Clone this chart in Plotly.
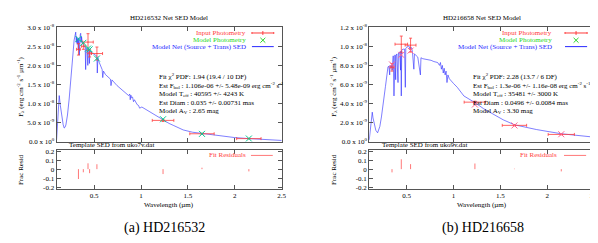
import plotly.graph_objects as go

# ---------------- data (flux in units of 1e-8 erg cm^-2 s^-1 um^-1) ----------------
# Left: HD216532
a_wave = [0.100, 0.115, 0.128, 0.140, 0.156, 0.170, 0.181, 0.190, 0.199, 0.216, 0.234, 0.251,
          0.269, 0.287, 0.304, 0.310, 0.314, 0.320, 0.325, 0.332, 0.336, 0.342, 0.346, 0.352,
          0.357, 0.362, 0.366, 0.375, 0.385, 0.395, 0.405, 0.410, 0.415, 0.425, 0.433, 0.438,
          0.446, 0.450, 0.455, 0.465, 0.480, 0.500, 0.515, 0.530, 0.534, 0.540, 0.551, 0.570,
          0.586, 0.592, 0.600, 0.621, 0.650, 0.674, 0.680, 0.690, 0.745, 0.798, 0.830, 0.850,
          0.868, 0.880, 0.885, 0.892, 0.900, 0.910, 0.920, 0.930, 0.945, 0.960, 0.974, 0.985,
          1.009, 1.050, 1.100, 1.150, 1.200, 1.250, 1.300, 1.344, 1.450, 1.550, 1.670, 1.870,
          2.000, 2.140, 2.330, 2.500]
a_flux = [0.05, 0.60, 1.21, 0.95, 0.61, 0.45, 0.36, 0.38, 0.44, 0.70, 1.12, 1.64,
          2.15, 2.66, 2.87, 2.60, 2.75, 2.55, 2.70, 2.40, 2.72, 2.27, 2.70, 2.80,
          2.84, 2.60, 2.75, 2.57, 2.55, 2.50, 2.48, 1.89, 2.46, 2.44, 2.00, 2.42,
          2.36, 2.05, 2.38, 2.35, 2.32, 2.30, 2.27, 2.24, 1.80, 2.20, 2.10, 1.98,
          1.89, 1.68, 1.85, 1.76, 1.70, 1.64, 1.47, 1.62, 1.47, 1.36, 1.30, 1.27,
          1.21, 1.25, 1.10, 1.22, 1.15, 1.17, 1.05, 1.10, 1.02, 0.97, 0.95, 0.88,
          0.91, 0.85, 0.78, 0.70, 0.62, 0.54, 0.48, 0.43, 0.31, 0.25, 0.21, 0.145,
          0.11, 0.085, 0.05, 0.035]
a_phot_x = [0.333, 0.385, 0.435, 0.452, 0.530, 1.235, 1.650, 2.150]
a_phot_y = [2.42, 2.50, 2.61, 2.32, 2.31, 0.56, 0.21, 0.083]
a_phot_xerr = [0.02, 0.02, 0.056, 0.02, 0.06, 0.115, 0.13, 0.13]
a_phot_yerr = [0.15, 0.08, 0.22, 0.10, 0.17, 0.03, 0.015, 0.008]
a_model = [2.69, 2.59, 2.44, 2.42, 2.18, 0.59, 0.207, 0.085]
a_resid = [-0.11, -0.035, 0.065, -0.045, 0.055, -0.055, 0.016, -0.025]

# Right: HD216658
b_wave = [0.100, 0.115, 0.132, 0.140, 0.153, 0.170, 0.189, 0.200, 0.213, 0.230, 0.248, 0.273,
          0.300, 0.310, 0.318, 0.322, 0.330, 0.337, 0.345, 0.350, 0.356, 0.364, 0.368, 0.375,
          0.382, 0.386, 0.395, 0.407, 0.412, 0.425, 0.434, 0.438, 0.442, 0.447, 0.460, 0.477,
          0.485, 0.490, 0.500, 0.512, 0.525, 0.535, 0.540, 0.548, 0.560, 0.576, 0.583, 0.600,
          0.618, 0.646, 0.652, 0.671, 0.700, 0.724, 0.760, 0.790, 0.830, 0.850, 0.860, 0.870,
          0.880, 0.890, 0.900, 0.910, 0.920, 0.930, 0.940, 0.955, 0.970, 1.000, 1.040, 1.110,
          1.228, 1.320, 1.530, 1.650, 1.886, 2.150, 2.486]
b_flux = [0.02, 0.15, 0.31, 0.25, 0.18, 0.12, 0.094, 0.12, 0.16, 0.26, 0.38, 0.58,
          0.785, 0.79, 0.70, 0.80, 0.78, 0.80, 0.75, 0.85, 0.90, 0.48, 0.88, 0.91,
          0.65, 0.90, 0.92, 0.62, 0.93, 0.94, 0.75, 0.95, 0.48, 0.96, 0.97, 0.97,
          0.57, 0.98, 0.99, 1.005, 1.00, 0.97, 0.99, 0.99, 0.95, 0.76, 0.92, 0.90,
          0.887, 0.70, 0.88, 0.87, 0.865, 0.853, 0.853, 0.84, 0.83, 0.80, 0.83, 0.76,
          0.80, 0.72, 0.77, 0.70, 0.74, 0.62, 0.70, 0.66, 0.64, 0.61, 0.57, 0.48,
          0.41, 0.347, 0.23, 0.178, 0.128, 0.084, 0.05]
b_phot_x = [0.343, 0.442, 0.541, 1.228, 1.650, 2.150]
b_phot_y = [0.78, 1.022, 1.012, 0.415, 0.172, 0.077]
b_phot_xerr = [0.02, 0.067, 0.058, 0.115, 0.13, 0.14]
b_phot_yerr = [0.04, 0.085, 0.073, 0.01, 0.005, 0.004]
b_model = [0.81, 0.91, 0.955, 0.39, 0.171, 0.079]
b_resid = [-0.036, 0.11, 0.056, 0.063, 0.005, -0.025]

xticks = [0.5, 1, 1.5, 2, 2.5]
xticklabels = ["0.5", "1", "1.5", "2", "2.5"]
a_yticks = [0, 0.5, 1.0, 1.5, 2.0, 2.5, 3.0]
a_yticklabels = ["0.0 x 10<sup>0</sup>", "5.0 x 10<sup>-9</sup>", "1.0 x 10<sup>-8</sup>",
                 "1.5 x 10<sup>-8</sup>", "2.0 x 10<sup>-8</sup>", "2.5 x 10<sup>-8</sup>",
                 "3.0 x 10<sup>-8</sup>"]
b_yticks = [0, 0.2, 0.4, 0.6, 0.8, 1.0, 1.2]
b_yticklabels = ["0.0 x 10<sup>0</sup>", "2.0 x 10<sup>-9</sup>", "4.0 x 10<sup>-9</sup>",
                 "6.0 x 10<sup>-9</sup>", "8.0 x 10<sup>-9</sup>", "1.0 x 10<sup>-8</sup>",
                 "1.2 x 10<sup>-8</sup>"]
rticks = [-0.2, -0.1, 0, 0.1, 0.2]
rticklabels = ["-0.2", "-0.1", "0", "0.1", "0.2"]

panels = [
    dict(name="HD216532", cap="(a) HD216532", tmpl="uko7v.dat", wave=a_wave, flux=a_flux,
         px=a_phot_x, py=a_phot_y, pxe=a_phot_xerr, pye=a_phot_yerr, model=a_model, resid=a_resid,
         ymax=3.0, yt=a_yticks, ytl=a_yticklabels,
         stats=["Fit χ<sup>2</sup> PDF: 1.94 (19.4 / 10 DF)",
                "Est F<sub>bol</sub> : 1.106e-06 +/- 5.48e-09 erg cm<sup>-2</sup> s<sup>-1</sup>",
                "Model T<sub>eff</sub> : 40595 +/- 4243 K",
                "Est Diam : 0.035 +/- 0.00731 mas",
                "Model A<sub>V</sub> : 2.65 mag"]),
    dict(name="HD216658", cap="(b) HD216658", tmpl="uko9v.dat", wave=b_wave, flux=b_flux,
         px=b_phot_x, py=b_phot_y, pxe=b_phot_xerr, pye=b_phot_yerr, model=b_model, resid=b_resid,
         ymax=1.2, yt=b_yticks, ytl=b_yticklabels,
         stats=["Fit χ<sup>2</sup> PDF: 2.28 (13.7 / 6 DF)",
                "Est F<sub>bol</sub> : 1.3e-06 +/- 1.16e-08 erg cm<sup>-2</sup> s<sup>-1</sup>",
                "Model T<sub>eff</sub> : 35481 +/- 3000 K",
                "Est Diam : 0.0496 +/- 0.0084 mas",
                "Model A<sub>V</sub> : 3.30 mag"]),
]

# ---------------- layout geometry (pixels) ----------------
W, H = 598, 243
def X(p): return p / W
def Y(p): return 1 - p / H

FONT = "Liberation Serif"
FS = 7
RED = "rgb(255,60,60)"
GREEN = "rgb(40,215,40)"
BLUE = "rgb(40,40,255)"
PINK = "rgb(255,120,120)"
FRAME = "#555555"

geo = [dict(x0=49, x1=276, off=0), dict(x0=364.3, x1=591, off=315.5)]
main_y = (15.7, 134.2)
res_y = (142.3, 182.7)

fig = go.Figure()
annotations = []
shapes = []

def ann(x, y, text, color="black", size=FS, xanchor="center", angle=0):
    annotations.append(dict(x=X(x), y=Y(y), xref="paper", yref="paper", text=text,
                            showarrow=False, xanchor=xanchor, yanchor="middle",
                            textangle=angle, font=dict(family=FONT, size=size, color=color)))

def seg(x0, y0, x1, y1, color, width=1):
    shapes.append(dict(type="line", xref="paper", yref="paper", x0=X(x0), y0=Y(y0),
                       x1=X(x1), y1=Y(y1), line=dict(color=color, width=width)))

for i, (p, g) in enumerate(zip(panels, geo)):
    mx = "x" if i == 0 else "x3"
    my = "y" if i == 0 else "y3"
    rx = "x2" if i == 0 else "x4"
    ry = "y2" if i == 0 else "y4"
    # model SED
    fig.add_trace(go.Scatter(x=p["wave"], y=p["flux"], mode="lines", xaxis=mx, yaxis=my,
                             line=dict(color=BLUE, width=0.6), showlegend=False, hoverinfo="skip"))
    # input photometry
    fig.add_trace(go.Scatter(x=p["px"], y=p["py"], mode="markers", xaxis=mx, yaxis=my,
                             marker=dict(size=1, color=RED),
                             error_x=dict(type="data", array=p["pxe"], color=RED, thickness=0.8, width=1.5),
                             error_y=dict(type="data", array=p["pye"], color=RED, thickness=0.8, width=1.5),
                             showlegend=False))
    # model photometry
    fig.add_trace(go.Scatter(x=p["px"], y=p["model"], mode="markers", xaxis=mx, yaxis=my,
                             marker=dict(symbol="x-thin-open", size=6, line=dict(color=GREEN, width=1)),
                             showlegend=False))
    # residual impulses
    rx_list, ry_list = [], []
    for xv, rv in zip(p["px"], p["resid"]):
        rx_list += [xv, xv, None]
        ry_list += [0, rv, None]
    fig.add_trace(go.Scatter(x=rx_list, y=ry_list, mode="lines", xaxis=rx, yaxis=ry,
                             line=dict(color=PINK, width=1), showlegend=False))

    common = dict(showline=True, linecolor=FRAME, linewidth=1, mirror="allticks", ticks="inside",
                  ticklen=4, tickcolor=FRAME, showgrid=False, zeroline=False,
                  tickfont=dict(family=FONT, size=FS, color="black"))
    xd = [X(g["x0"]), X(g["x1"])]
    ax_main = "xaxis" if i == 0 else "xaxis3"
    ay_main = "yaxis" if i == 0 else "yaxis3"
    ax_res = "xaxis2" if i == 0 else "xaxis4"
    ay_res = "yaxis2" if i == 0 else "yaxis4"
    fig.update_layout(**{
        ax_main: dict(domain=xd, range=[0.1, 2.5], tickvals=xticks, showticklabels=False,
                      anchor=my, **common),
        ay_main: dict(domain=[Y(main_y[1]), Y(main_y[0])], range=[0, p["ymax"]], tickvals=p["yt"],
                      ticktext=p["ytl"], anchor=mx, **common),
        ax_res: dict(domain=xd, range=[0.1, 2.5], tickvals=xticks, ticktext=xticklabels,
                     anchor=ry, **common),
        ay_res: dict(domain=[Y(res_y[1]), Y(res_y[0])], range=[-0.218, 0.218], tickvals=rticks,
                     ticktext=rticklabels, anchor=rx, **common),
    })

    o = g["off"]
    cx = (g["x0"] + g["x1"]) / 2
    ann(cx, 6, p["name"] + " Net SED Model")
    ann(12.5 + o, 77, "F<sub>λ</sub> (erg cm<sup>-2</sup> s<sup>-1</sup> µm<sup>-1</sup>)", angle=-90)
    ann(12.5 + o, 163, "Frac Resid", angle=-90)
    ann(cx, 199.5, "Wavelength (µm)")
    ann(60 + o, 137.8, "Template SED from " + p["tmpl"], xanchor="left")
    ann(cx - 5 if i == 0 else cx + 1, 223, p["cap"], size=14)
    # stats text block
    sx = 150 if i == 0 else 466.7
    for line, yy in zip(p["stats"], [66.5, 76, 85, 94, 102.8]):
        ann(sx, yy, line, xanchor="left")
    # legend
    tend = 241.7 if i == 0 else 550.7
    l0 = 246 if i == 0 else 561.7
    l1 = 268 if i == 0 else 584
    lm = (l0 + l1) / 2
    ann(tend, 21.7, "Input Photometry", color=RED, xanchor="right")
    seg(l0, 21.7, l1, 21.7, RED)
    seg(lm, 19.7, lm, 23.7, RED)
    seg(l0, 20.7, l0, 22.7, RED)
    seg(l1, 20.7, l1, 22.7, RED)
    ann(tend, 29.2, "Model Photometry", color=GREEN, xanchor="right")
    seg(lm - 2.5, 26.7, lm + 2.5, 31.7, GREEN)
    seg(lm - 2.5, 31.7, lm + 2.5, 26.7, GREEN)
    ann(tend, 35.8, "Model Net (Source + Trans) SED", color=BLUE, xanchor="right")
    seg(l0, 35.8, l1, 35.8, BLUE)
    rtend = 242 if i == 0 else 556
    ann(rtend, 148.3, "Fit Residuals", color=RED, xanchor="right")
    seg(l0 - 1, 148.3, l1 - 1, 148.3, PINK)

fig.update_layout(width=W, height=H, margin=dict(l=0, r=0, t=0, b=0),
                  paper_bgcolor="white", plot_bgcolor="white", showlegend=False,
                  annotations=annotations, shapes=shapes,
                  font=dict(family=FONT, size=FS, color="black"))

fig.write_html("out.html")
